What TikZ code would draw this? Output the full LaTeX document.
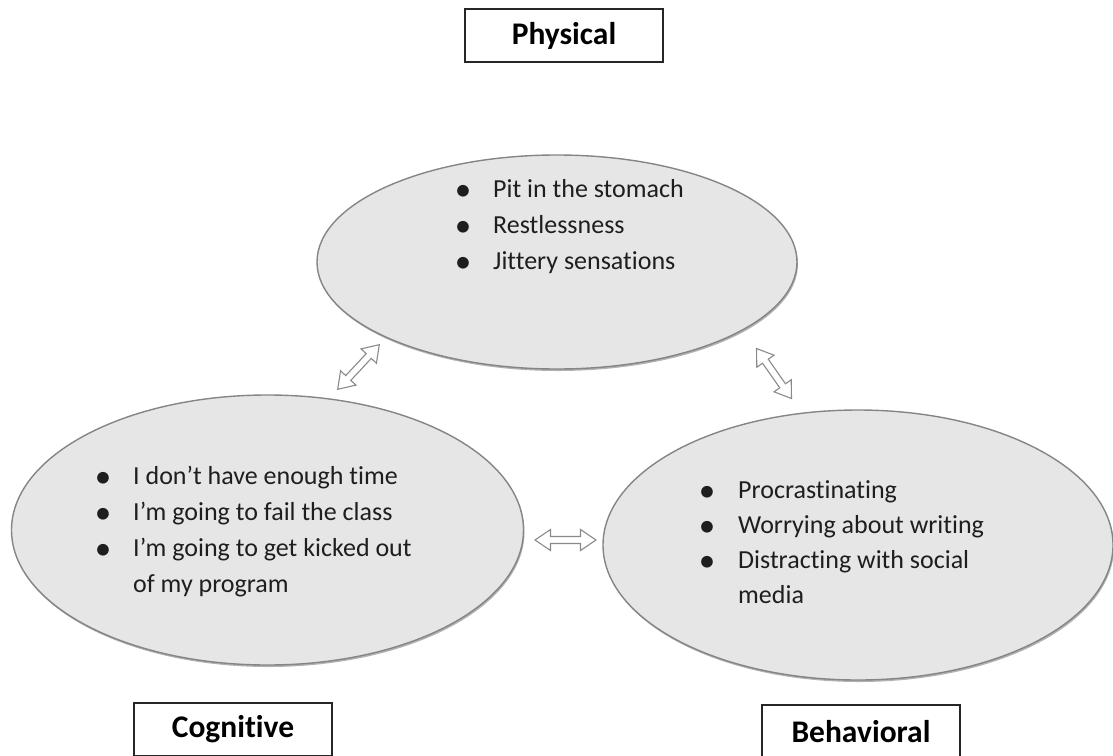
\documentclass[tikz,border=0pt]{standalone}
\usepackage{fontspec}
\setmainfont[Ligatures=NoCommon]{Carlito}
\usetikzlibrary{shapes.geometric,shadows}

\definecolor{bubblefill}{HTML}{E7E6E6}
\definecolor{bubbleline}{HTML}{858585}
\definecolor{arrowline}{HTML}{8A8A8A}
\definecolor{tagline}{HTML}{262626}
\definecolor{textcol}{HTML}{1E1E1E}

% bullet sitting on the left edge of a 30pt indent
\newcommand\blt{\makebox[30pt][l]{\makebox[0pt]{\fontsize{33}{33}\selectfont\raisebox{-3pt}{\textbullet}}}}
\newcommand\cnt{\hspace*{30pt}}

\tikzset{
  bubble/.style={ellipse, draw=bubbleline, line width=1.4pt, fill=bubblefill,
    inner sep=0pt,
    drop shadow={shadow xshift=1pt, shadow yshift=-2pt, opacity=0.3, fill=black}},
  tagbox/.style={draw=tagline, line width=1.6pt, fill=white,
    minimum width=198pt, minimum height=53pt, inner sep=0pt,
    font=\fontsize{31.5}{36}\selectfont\bfseries},
  bullets/.style={anchor=base west, inner sep=0pt, text=textcol},
  linkarrow/.style={draw=arrowline, line width=1.1pt, fill=white, line join=miter},
  pics/dblarrow/.style={code={
    \draw[linkarrow] (-30.5,0) -- (-15,10.5) -- (-15,3.5) -- (15,3.5)
      -- (15,10.5) -- (30.5,0) -- (15,-10.5) -- (15,-3.5) -- (-15,-3.5)
      -- (-15,-10.5) -- cycle;
  }},
}

\begin{document}
\begin{tikzpicture}[x=1pt, y=-1pt]
  \path[use as bounding box] (0,0) rectangle (1113,755);
  \clip (0,0) rectangle (1113,755);

  % the three areas
  \node[bubble, minimum width=480pt, minimum height=214pt] (phys) at (557,262) {};
  \node[bubble, minimum width=512pt, minimum height=270pt] (cog) at (267.5,530) {};
  \node[bubble, minimum width=510pt, minimum height=270pt] (beh) at (858,545) {};

  % their contents
  \node[bullets, font=\fontsize{26}{36}\selectfont] (physlist) at (463,197)
    {\begin{tabular}[t]{@{}l@{}}
      \blt Pit in the stomach\\
      \blt Restlessness\\
      \blt Jittery sensations
    \end{tabular}};
  \node[bullets, font=\fontsize{26}{36}\selectfont] (coglist) at (103,484)
    {\begin{tabular}[t]{@{}l@{}}
      \blt I don’t have enough time\\
      \blt I’m going to fail the class\\
      \blt I’m going to get kicked out\\
      \cnt of my program
    \end{tabular}};
  \node[bullets, font=\fontsize{26}{35}\selectfont] (behlist) at (707,498)
    {\begin{tabular}[t]{@{}l@{}}
      \blt\hspace{1pt}Procrastinating\\
      \blt\hspace{1pt}Worrying about writing\\
      \blt\hspace{1pt}Distracting with social\\
      \cnt\hspace{1pt}media
    \end{tabular}};

  % headings
  \node[tagbox] (physlabel) at (564,35.5) {Physical};
  \node[tagbox] (coglabel) at (233,729.5) {Cognitive};
  \node[tagbox] (behlabel) at (861,731.5) {Behavioral};

  % two-way links between the areas
  \coordinate (link-pc) at (358.5,367);
  \coordinate (link-pb) at (774,373.5);
  \coordinate (link-cb) at (565.5,540);
  \pic[rotate=47] at (link-pc) {dblarrow};
  \pic[rotate=-55] at (link-pb) {dblarrow};
  \pic at (link-cb) {dblarrow};
\end{tikzpicture}
\end{document}
